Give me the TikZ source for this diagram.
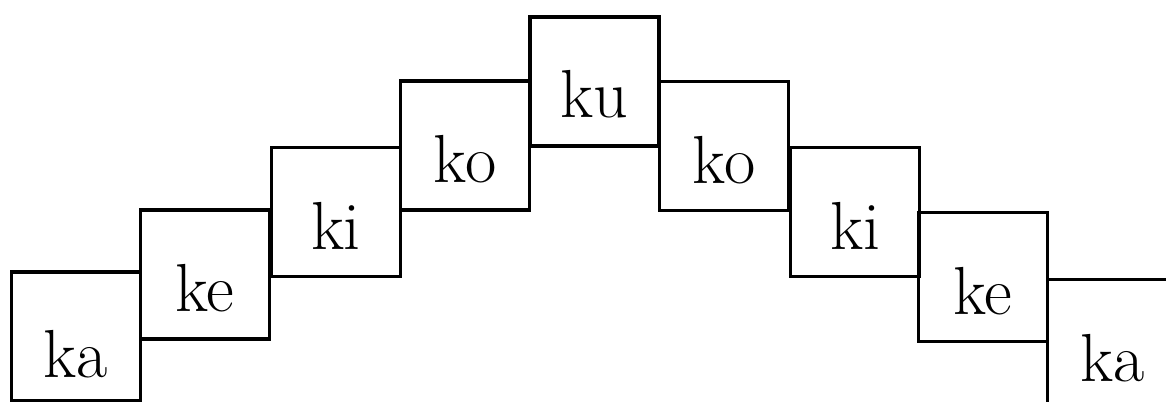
\documentclass[tikz,border=0pt]{standalone}
\usetikzlibrary{calc}
\tikzset{
  kbox/.style={draw, line width=2.3pt, minimum width=96.75pt, minimum height=96.75pt, inner sep=0pt, outer sep=0pt},
  ktext/.style={anchor=base, inner sep=0.75pt, font=\fontsize{51}{56}\selectfont}
}
\begin{document}
\begin{tikzpicture}[x=0.75pt,y=0.75pt,yscale=-1,xscale=1]
    \useasboundingbox (0,0) rectangle (1166,402);
    \clip (0,0) rectangle (1166,402);
    % Boxes, left rising side
    \node [kbox] (ka1) at (76,336.5) {};
    \node [kbox] (ke1) at (205,274.5) {};
    \node [kbox] (ki1) at (336,212) {};
    \node [kbox] (ko1) at (465,145.5) {};
    % Top box
    \node [kbox] (ku) at (594.5,81.5) {};
    % Boxes, right falling side
    \node [kbox] (ko2) at (724,146) {};
    \node [kbox] (ki2) at (855,212) {};
    \node [kbox] (ke2) at (983,277) {};
    \node [kbox] (ka2) at (1112,344) {};
    % Text Nodes
    \node [ktext] (ka1t) at ($(ka1.south)+(0,-24)$) {ka};
    \node [ktext] (ke1t) at ($(ke1.south)+(0,-27)$) {ke};
    \node [ktext] (ki1t) at ($(ki1.south)+(0,-27)$) {ki};
    \node [ktext] (ko1t) at ($(ko1.south)+(0,-27)$) {ko};
    \node [ktext] (kut) at ($(ku.south)+(0,-28)$) {ku};
    \node [ktext] (ko2t) at ($(ko2.south)+(0,-27)$) {ko};
    \node [ktext] (ki2t) at ($(ki2.south)+(0,-27)$) {ki};
    \node [ktext] (ke2t) at ($(ke2.south)+(0,-27)$) {ke};
    \node [ktext] (ka2t) at (1113,381) {ka};
\end{tikzpicture}
\end{document}
